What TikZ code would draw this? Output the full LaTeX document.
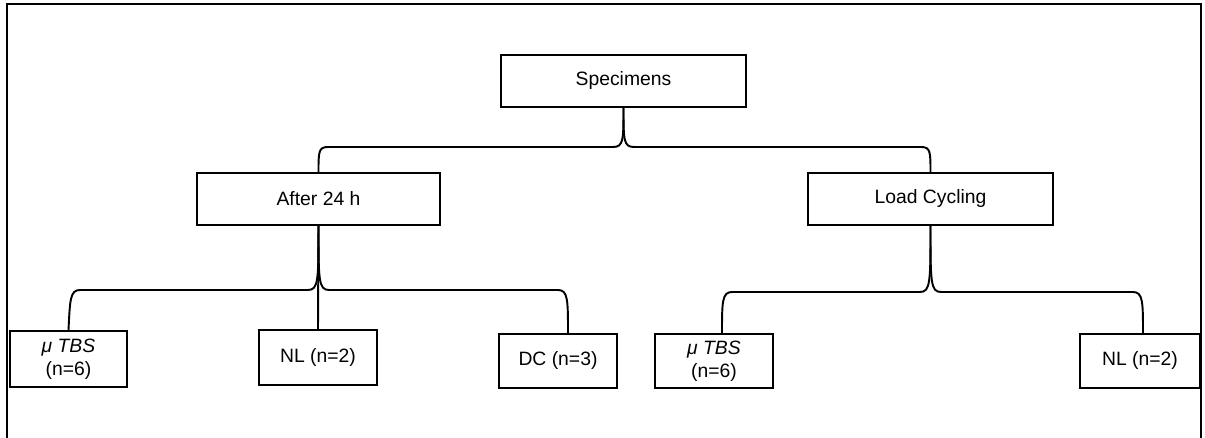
\documentclass[tikz,border=0pt]{standalone}
\usepackage{fontspec}
\setmainfont{Liberation Sans}
\begin{document}
\begin{tikzpicture}[x=0.02cm,y=-0.02cm,
  box/.style={draw,line width=1.1pt,minimum height=1.04cm,align=center,inner sep=2pt,font=\fontsize{11}{13}\selectfont},
  link/.style={line width=1.1pt}]
\useasboundingbox (0,0) rectangle (1205,438);
% outer frame, open at the bottom
\draw[line width=1.6pt] (7,438) -- (7,4) -- (1201,4) -- (1201,438);

\node[box,minimum width=4.9cm] (spec) at (623.5,81) {Specimens};
\node[box,minimum width=4.86cm] (a24) at (318.5,199) {After 24 h};
\node[box,minimum width=4.9cm] (lc) at (930.5,199) {Load Cycling};
\node[box,minimum width=2.34cm,minimum height=1.12cm] (mu1) at (68.5,359) {\textit{μ TBS}\\(n=6)};
\node[box,minimum width=2.36cm,minimum height=1.1cm] (nl1) at (318,357.5) {NL (n=2)};
\node[box,minimum width=2.36cm,minimum height=1.08cm] (dc) at (558,361) {DC (n=3)};
\node[box,minimum width=2.36cm,minimum height=1.08cm] (mu2) at (714,361) {\textit{μ TBS}\\(n=6)};
\node[box,minimum width=2.4cm,minimum height=1.08cm] (nl2) at (1140,361) {NL (n=2)};

% brace-like connectors
\draw[link] (spec.south) .. controls (623.5,140) and (623.5,147) .. (613,147) -- (328,147)
  .. controls (318.5,147) and (318.5,152) .. (a24.north);
\draw[link] (spec.south) .. controls (623.5,140) and (623.5,147) .. (634,147) -- (921,147)
  .. controls (930.5,147) and (930.5,152) .. (lc.north);

\draw[link] (a24.south) .. controls (318.5,280) and (318.5,290) .. (308,290) -- (80,290)
  .. controls (70,290) and (70,300) .. (mu1.north);
\draw[link] (a24.south) -- (nl1.north);
\draw[link] (a24.south) .. controls (318.5,280) and (318.5,290) .. (329,290) -- (558,290)
  .. controls (568,290) and (568,300) .. (568,334);

\draw[link] (lc.south) .. controls (930.5,282) and (930.5,292) .. (920,292) -- (732,292)
  .. controls (722,292) and (722,302) .. (722,334);
\draw[link] (lc.south) .. controls (930.5,282) and (930.5,292) .. (941,292) -- (1133,292)
  .. controls (1143,292) and (1143,302) .. (1143,334);
\end{tikzpicture}
\end{document}
